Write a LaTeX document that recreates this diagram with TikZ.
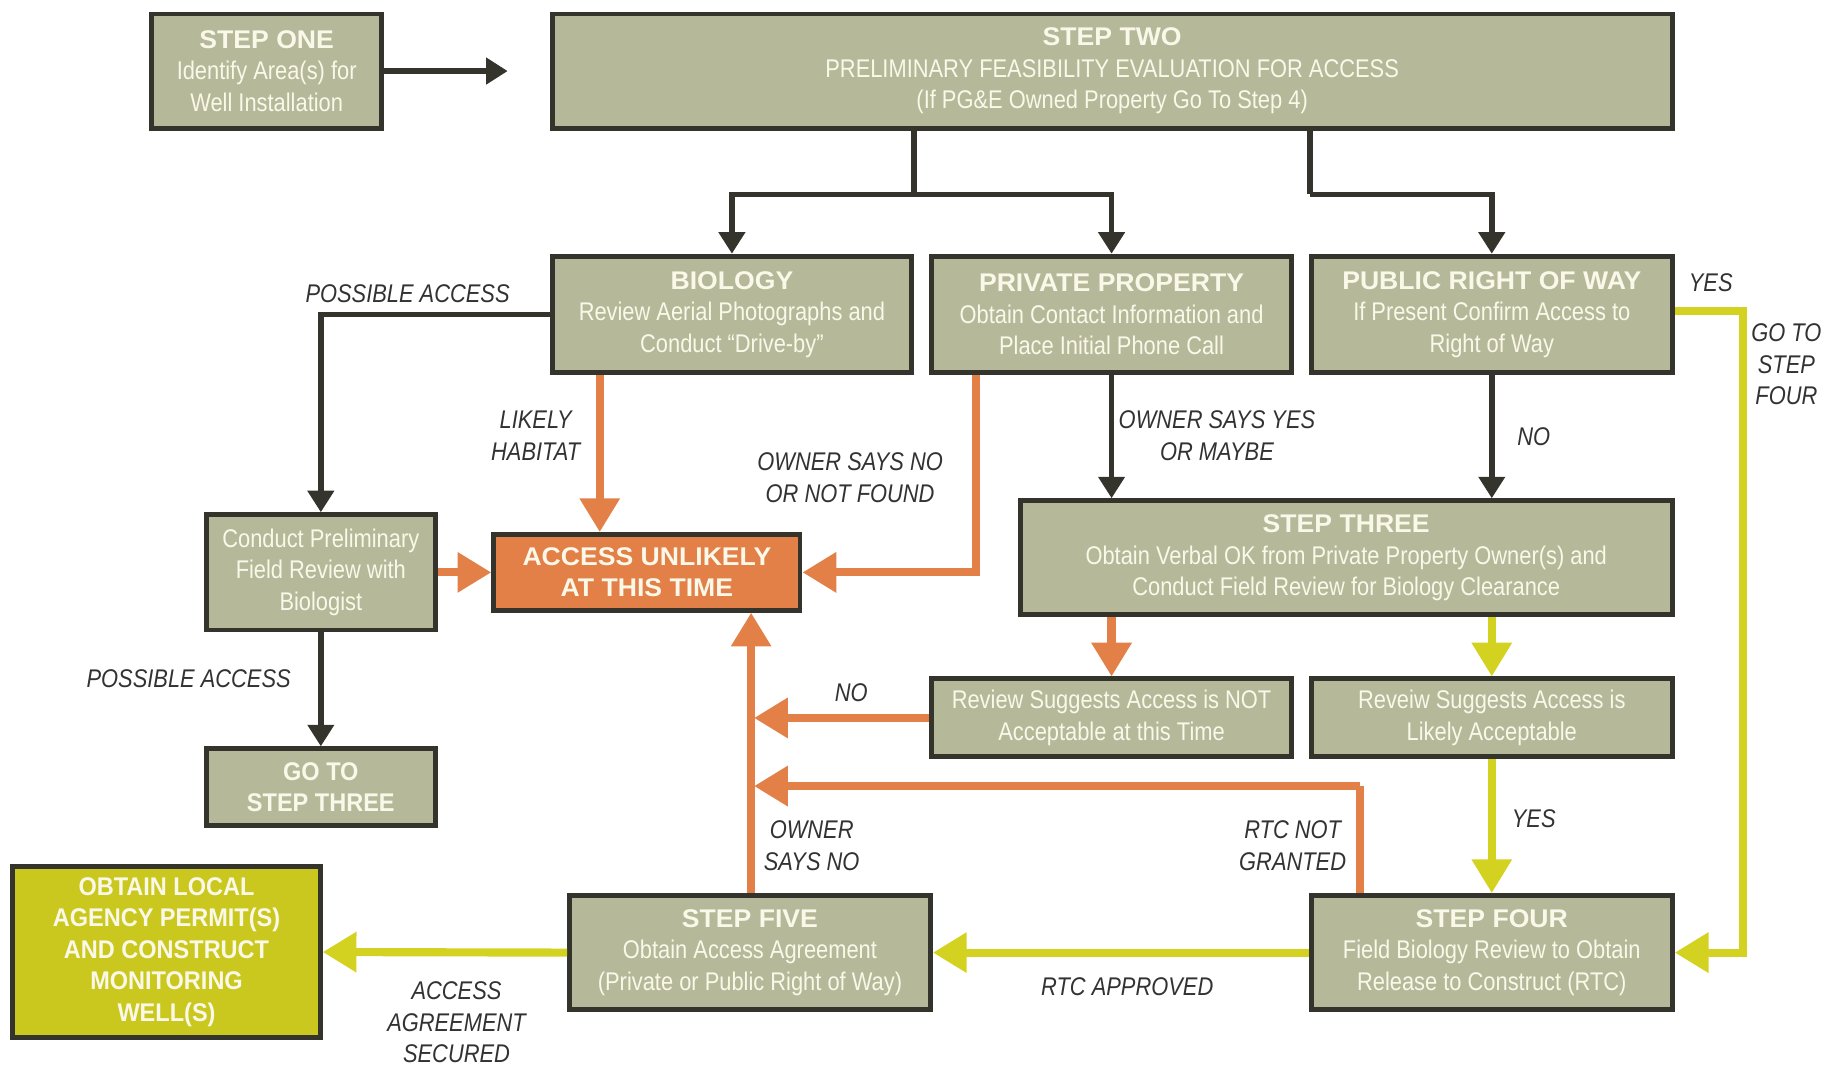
\documentclass[tikz,border=0pt]{standalone}
\usepackage{fontspec}
\setmainfont{Liberation Sans}[FakeStretch=0.855]
\newfontfamily\ttlfont{Liberation Sans}[FakeStretch=1.04]
\newfontfamily\olfont{Liberation Sans}[FakeStretch=0.92]
\usetikzlibrary{arrows.meta,calc}
\definecolor{boxfill}{RGB}{182,184,154}
\definecolor{boxline}{RGB}{52,52,44}
\definecolor{boxtext}{RGB}{250,248,232}
\definecolor{orng}{RGB}{226,128,72}
\definecolor{yell}{RGB}{212,210,32}
\definecolor{yellfill}{RGB}{202,200,30}
\definecolor{lbl}{RGB}{50,50,50}
\newcommand{\ttl}[1]{{\ttlfont\bfseries #1}}
\newcommand{\olt}[1]{{\olfont\bfseries #1}}
\tikzset{
  box/.style={draw=boxline, line width=0.085cm, fill=boxfill, text=boxtext, align=center,
    inner sep=0pt, font=\fontsize{12.5}{15.4}\selectfont},
  dk/.style={draw=boxline, line width=0.1cm, -{Triangle[length=0.37cm,width=0.44cm]}},
  dkl/.style={draw=boxline, line width=0.1cm},
  orl/.style={draw=orng, line width=0.14cm},
  ora/.style={draw=orng, line width=0.14cm, -{Triangle[length=0.58cm,width=0.66cm]}},
  yll/.style={draw=yell, line width=0.14cm},
  yla/.style={draw=yell, line width=0.14cm, -{Triangle[length=0.58cm,width=0.66cm]}},
  lab/.style={text=lbl, align=center, inner sep=0pt, font=\fontsize{12.5}{15.4}\selectfont\itshape},
}
\begin{document}
\begin{tikzpicture}[x=0.02cm, y=-0.02cm]
\useasboundingbox (0,0) rectangle (1568,917);
% boxes
\node[box, minimum width=3.96cm, minimum height=1.96cm] (s1) at (229,61)
  {\ttl{STEP ONE}\\Identify Area(s) for\\Well Installation};
\node[box, minimum width=19.24cm, minimum height=1.96cm] (s2) at (955,61)
  {\ttl{STEP TWO}\\PRELIMINARY FEASIBILITY EVALUATION FOR ACCESS\\(If PG\&E Owned Property Go To Step 4)};
\node[box, minimum width=6.18cm, minimum height=2.0cm] (bio) at (628.5,270)
  {\ttl{BIOLOGY}\\Review Aerial Photographs and\\Conduct “Drive-by”};
\node[box, minimum width=6.18cm, minimum height=2.0cm] (pp) at (954.5,270)
  {\ttl{PRIVATE PROPERTY}\\Obtain Contact Information and\\Place Initial Phone Call};
\node[box, minimum width=6.2cm, minimum height=2.0cm] (prow) at (1281,270)
  {\ttl{PUBLIC RIGHT OF WAY}\\If Present Confirm Access to\\Right of Way};
\node[box, minimum width=3.94cm, minimum height=1.98cm] (cpr) at (275.5,491.5)
  {Conduct Preliminary\\Field Review with\\Biologist};
\node[box, fill=orng, minimum width=5.26cm, minimum height=1.30cm] (au) at (555.5,491.5)
  {\ttl{ACCESS UNLIKELY}\\\ttl{AT THIS TIME}};
\node[box, minimum width=11.2cm, minimum height=1.96cm] (s3) at (1156,479)
  {\ttl{STEP THREE}\\Obtain Verbal OK from Private Property Owner(s) and\\Conduct Field Review for Biology Clearance};
\node[box, minimum width=6.18cm, minimum height=1.34cm] (rna) at (954.5,616.5)
  {Review Suggests Access is NOT\\Acceptable at this Time};
\node[box, minimum width=6.2cm, minimum height=1.34cm] (rla) at (1281,616.5)
  {Reveiw Suggests Access is\\Likely Acceptable};
\node[box, minimum width=3.94cm, minimum height=1.32cm] (g3) at (275.5,676)
  {\olt{GO TO}\\\olt{STEP THREE}};
\node[box, minimum width=6.2cm, minimum height=1.96cm] (s4) at (1281,818)
  {\ttl{STEP FOUR}\\Field Biology Review to Obtain\\Release to Construct (RTC)};
\node[box, minimum width=6.2cm, minimum height=1.96cm] (s5) at (644,818)
  {\ttl{STEP FIVE}\\Obtain Access Agreement\\(Private or Public Right of Way)};
\node[box, fill=yellfill, minimum width=5.28cm, minimum height=2.94cm] (ol) at (143,817.5)
  {\olt{OBTAIN LOCAL}\\\olt{AGENCY PERMIT(S)}\\\olt{AND CONSTRUCT}\\\olt{MONITORING}\\\olt{WELL(S)}};
% helper coordinates
\coordinate (j1) at (785,167);
\coordinate (j2) at (1125,167);
\coordinate (lhx) at (515,0);
\coordinate (onx) at (838,0);
\coordinate (vx) at (645,0);
\coordinate (rx) at (1168,675);
\coordinate (gx) at (1497,0);
% dark connectors
\draw[dk, shorten >=0.72cm] (s1.east) -- (s2.west |- s1.east);
\draw[dkl] (s2.south -| j1) -- (j1);
\draw[dkl] (s2.south -| j2) -- (j2);
\draw[dk] (j1) -| (bio.north);
\draw[dk] (j1) -| (pp.north);
\draw[dk] (j2) -| (prow.north);
\draw[dk] (bio.west) -| (cpr.north);
\draw[dk] (cpr.south) -- (g3.north);
\draw[dk] (pp.south) -- (pp.south |- s3.north);
\draw[dk] (prow.south) -- (prow.south |- s3.north);
% orange connectors
\draw[ora] (cpr.east) -- (au.west);
\draw[ora] (bio.south -| lhx) -- (au.north -| lhx);
\draw[ora] (pp.south -| onx) |- (au.east);
\draw[ora] (s3.south -| rna.north) -- (rna.north);
\draw[ora, shorten >=0.05cm] (rna.west) -- (rna.west -| vx);
\draw[orl] (s4.north -| rx) -- (rx);
\draw[ora, shorten >=0.05cm] (rx) -- (rx -| vx);
\draw[ora] (s5.north -| vx) -- (au.south -| vx);
% yellow connectors
\draw[yla] (s3.south -| rla.north) -- (rla.north);
\draw[yla] (rla.south) -- (s4.north);
\draw[yla] (s4.west) -- (s5.east);
\draw[yla] (s5.west) -- (ol.east);
\draw[yla] ([yshift=0.06cm]prow.east) -- ([yshift=0.06cm]prow.east -| gx) -- (s4.east -| gx) -- (s4.east);
% labels
\node[lab] (l1) at (350,252) {POSSIBLE ACCESS};
\node[lab] (l2) at (460,374) {LIKELY\\HABITAT};
\node[lab] (l3) at (730,410) {OWNER SAYS NO\\OR NOT FOUND};
\node[lab] (l4) at (1045,374) {OWNER SAYS YES\\OR MAYBE};
\node[lab] (l5) at (1317,375) {NO};
\node[lab] (l6) at (1469,243) {YES};
\node[lab] (l7) at (1534,313) {GO TO\\STEP\\FOUR};
\node[lab] (l8) at (731,595) {NO};
\node[lab] (l9) at (162,583) {POSSIBLE ACCESS};
\node[lab] (l10) at (697,726) {OWNER\\SAYS NO};
\node[lab] (l11) at (1110,726) {RTC NOT\\GRANTED};
\node[lab] (l12) at (1317,703) {YES};
\node[lab] (l13) at (968,847) {RTC APPROVED};
\node[lab] (l14) at (392,878) {ACCESS\\AGREEMENT\\SECURED};
\end{tikzpicture}
\end{document}
